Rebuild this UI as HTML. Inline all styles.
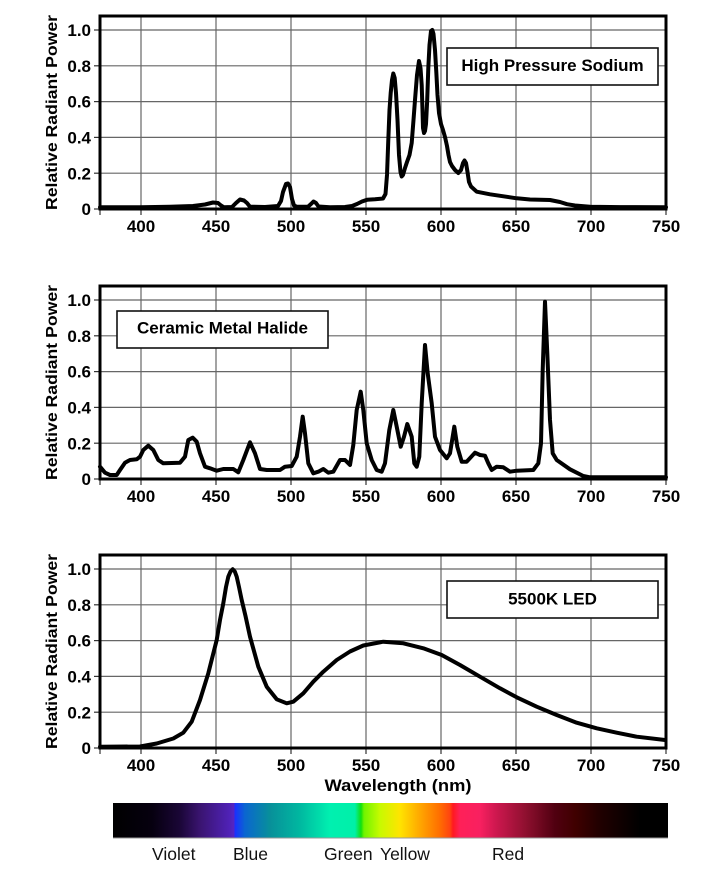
<!DOCTYPE html>
<html><head><meta charset="utf-8"><style>
html,body{margin:0;padding:0;background:#fff;}
svg{display:block;}
text{font-family:"Liberation Sans",Arial,sans-serif;}
</style></head><body>
<svg width="705" height="876" viewBox="0 0 705 876" xmlns="http://www.w3.org/2000/svg">
<defs>
<linearGradient id="spec" gradientUnits="userSpaceOnUse" x1="113" y1="0" x2="668" y2="0">
<stop offset="0" stop-color="#000000"/>
<stop offset="0.07" stop-color="#06000f"/>
<stop offset="0.12" stop-color="#1a0636"/>
<stop offset="0.1568" stop-color="#3a1470"/>
<stop offset="0.211" stop-color="#5022b8"/>
<stop offset="0.218" stop-color="#5525c4"/>
<stop offset="0.2198" stop-color="#1a30ff"/>
<stop offset="0.2378" stop-color="#0a66d0"/>
<stop offset="0.2829" stop-color="#08909a"/>
<stop offset="0.3369" stop-color="#00b8a0"/>
<stop offset="0.391" stop-color="#00f0b0"/>
<stop offset="0.436" stop-color="#00f0a8"/>
<stop offset="0.4468" stop-color="#10e010"/>
<stop offset="0.4523" stop-color="#70f400"/>
<stop offset="0.4811" stop-color="#c8fa00"/>
<stop offset="0.5171" stop-color="#ffe400"/>
<stop offset="0.5477" stop-color="#ffb000"/>
<stop offset="0.5874" stop-color="#ff7000"/>
<stop offset="0.6072" stop-color="#ff4410"/>
<stop offset="0.6126" stop-color="#ff1a20"/>
<stop offset="0.6252" stop-color="#ff2058"/>
<stop offset="0.6613" stop-color="#f82060"/>
<stop offset="0.6883" stop-color="#d01850"/>
<stop offset="0.7423" stop-color="#901030"/>
<stop offset="0.7964" stop-color="#500010"/>
<stop offset="0.8324" stop-color="#400000"/>
<stop offset="0.8775" stop-color="#200000"/>
<stop offset="0.9135" stop-color="#100000"/>
<stop offset="0.95" stop-color="#000000"/>
<stop offset="1" stop-color="#000000"/>
</linearGradient>
</defs>
<rect x="0" y="0" width="705" height="876" fill="#fff"/>

<g id="c1">
<g stroke="#666" stroke-width="1.2">
<line x1="141" y1="16" x2="141" y2="209"/><line x1="216" y1="16" x2="216" y2="209"/><line x1="291" y1="16" x2="291" y2="209"/><line x1="366" y1="16" x2="366" y2="209"/><line x1="441" y1="16" x2="441" y2="209"/><line x1="516" y1="16" x2="516" y2="209"/><line x1="591" y1="16" x2="591" y2="209"/>
<line x1="100" y1="30" x2="666" y2="30"/><line x1="100" y1="65.8" x2="666" y2="65.8"/><line x1="100" y1="101.6" x2="666" y2="101.6"/><line x1="100" y1="137.4" x2="666" y2="137.4"/><line x1="100" y1="173.2" x2="666" y2="173.2"/>
</g>
<g stroke="#333" stroke-width="1.2">
<line x1="100" y1="209" x2="100" y2="215"/><line x1="141" y1="209" x2="141" y2="215"/><line x1="216" y1="209" x2="216" y2="215"/><line x1="291" y1="209" x2="291" y2="215"/><line x1="366" y1="209" x2="366" y2="215"/><line x1="441" y1="209" x2="441" y2="215"/><line x1="516" y1="209" x2="516" y2="215"/><line x1="591" y1="209" x2="591" y2="215"/><line x1="666" y1="209" x2="666" y2="215"/>
<line x1="94" y1="30" x2="100" y2="30"/><line x1="94" y1="65.8" x2="100" y2="65.8"/><line x1="94" y1="101.6" x2="100" y2="101.6"/><line x1="94" y1="137.4" x2="100" y2="137.4"/><line x1="94" y1="173.2" x2="100" y2="173.2"/><line x1="94" y1="209" x2="100" y2="209"/>
</g>
<rect x="100" y="16" width="566" height="193" fill="none" stroke="#000" stroke-width="3"/>
<g font-size="17" font-weight="bold" fill="#000" text-anchor="end">
<text x="91" y="36.1">1.0</text><text x="91" y="71.9">0.8</text><text x="91" y="107.7">0.6</text><text x="91" y="143.5">0.4</text><text x="91" y="179.3">0.2</text><text x="91" y="215.1">0</text>
</g>
<g font-size="17" font-weight="bold" fill="#000" text-anchor="middle">
<text x="141" y="232">400</text><text x="216" y="232">450</text><text x="291" y="232">500</text><text x="366" y="232">550</text><text x="441" y="232">600</text><text x="516" y="232">650</text><text x="591" y="232">700</text><text x="666" y="232">750</text>
</g>
<text transform="translate(57,112.5) rotate(-90)" font-size="16" font-weight="bold" text-anchor="middle" textLength="195" lengthAdjust="spacingAndGlyphs">Relative Radiant Power</text>
</g>
<use href="#c1" transform="translate(0,270)"/>
<use href="#c1" transform="translate(0,539)"/>

<rect x="447" y="48" width="211" height="37" fill="#fff" stroke="#111" stroke-width="1.6"/>
<text x="552.5" y="71" font-size="17" font-weight="bold" text-anchor="middle">High Pressure Sodium</text>
<rect x="117" y="311" width="211" height="37" fill="#fff" stroke="#111" stroke-width="1.6"/>
<text x="222.5" y="333.5" font-size="17" font-weight="bold" text-anchor="middle">Ceramic Metal Halide</text>
<rect x="447" y="581" width="211" height="37" fill="#fff" stroke="#111" stroke-width="1.6"/>
<text x="552.5" y="604.5" font-size="17" font-weight="bold" text-anchor="middle">5500K LED</text>

<g fill="none" stroke="#000" stroke-width="4" stroke-linejoin="round" stroke-linecap="round">
<polyline points="100,207.3 140,207.3 170,206.8 193,206 205,204.5 213,202.5 218,203 221,205.5 224,207.3 232,207 236,203 240,199.5 244,200.5 247,203 250,206.7 265,207 278,206 281,201 283,192 286,184 288,183.5 290,187 292,199 294,205.5 297,206.8 308,206.7 311,204 313.5,201.5 316,203 318.5,206.5 330,207.3 345,207 352,206 357,204 362,201.5 367,199.8 375,199.3 383,198.5 385.5,194 387,175 388.3,140 389.5,110 390.7,93 392,80 393.3,73.5 394.7,78 396,93 397.5,120 399,155 400.5,172 401.7,176.5 403,175 405,168 407,162 409.5,155 411.7,143 413.5,120 415,100 417,75 419,61 420.5,68 421.7,85 422.5,110 423,128 424,133 425,131 426,124 427.2,100 428.3,68 429.5,45 431,31 432.3,30 433.5,34 435,50 436.3,72 437.5,95 439,113 441,124 443,130 445,137 447,146 448.5,155 450,162 452,166 455,170 458.3,173 461,170 463,163 464.5,160.5 466,163 467.5,172 469,182 471,186.5 476.7,191.7 490,194.3 516.7,198.3 530,199.5 550,200 560,202 567,204.2 575,205.5 590,206.7 620,207.1 666,207.3"/>
<polyline points="100,466.7 105,472.7 110,475 116.7,475 120,470 125,462.7 130,460 136.7,459.3 140,456.7 143.3,450 148.3,445.7 153.3,450 158.3,460 163.3,463.3 180,462.7 185,456.7 188.3,440 192.7,437.7 196.7,441.7 200,453.3 205,466.7 210,468.3 216.7,470.7 223.3,469 233.3,469 238.3,472.3 243.3,460 250,442.3 255,453.3 260,469 266.7,470 280,470 285,466.7 291.7,466 296.7,456.7 300,436.7 302.7,416.7 305,433.3 308.3,463.3 313.3,473.3 318.3,471.7 323.3,469 328.3,472.7 333.3,471.7 340,460 345,460 350,465 353.3,445 356.7,410 360.7,391.7 363.3,410 366.7,443.3 371.7,460 376.7,470 381.7,471.7 385,463.3 389.3,430 393.3,410 396.7,426.7 400.7,446.7 404,436.7 407.3,424 411.7,436.7 414.3,463.3 416.7,466.7 419.3,456.7 421.7,403.3 425,345 427.7,373.3 431.7,403.3 435,436.7 440,450 446.7,458.3 450,453.3 454.3,426.7 457.3,446.7 461.7,461.7 466.7,461.7 475,452.7 480,455 485,455.7 488.3,463.3 491.7,470 496.7,466.7 503.3,467.3 510,471.7 516.7,470.7 533.3,470 538.3,463.3 541,443.3 542.7,370 545,301.7 547.3,353.3 550,420 552.7,453.3 556.7,460 570,469.3 583.3,476 590,477.3 666,477.3"/>
<polyline points="100,746.7 140,746.5 156.7,743.5 173.3,738.5 183.3,732.7 191.7,721.7 200,700 208.3,673.3 216.7,640 220,620 223.3,603.3 226,587 228.3,576.7 230.5,571.5 232.7,569.3 234.8,571.5 236.7,576.7 239,587 241.7,600 245.5,616 250,636.7 258.3,666.7 266.7,686.7 276.7,699.3 286.7,703.3 293.3,701.7 303.3,693.3 313.3,681.7 323.3,671.7 336.7,660 350,651.5 363.3,645.5 383.3,641.7 403.3,643.3 423.3,648.3 441.7,655 460,665 480,676.7 500,688.3 516.7,697.3 536.7,706.7 556.7,715 576.7,722.7 596.7,728.3 616.7,732.7 636.7,736.7 665,740"/>
</g>

<text x="398" y="791" font-size="17" font-weight="bold" text-anchor="middle" textLength="147" lengthAdjust="spacingAndGlyphs">Wavelength (nm)</text>

<rect x="113" y="803" width="555" height="35" fill="url(#spec)"/>
<line x1="113" y1="838" x2="668" y2="838" stroke="#999" stroke-width="1"/>
<g font-size="17.5" fill="#111">
<text x="152" y="860">Violet</text>
<text x="233" y="860">Blue</text>
<text x="324" y="860">Green</text>
<text x="380" y="860">Yellow</text>
<text x="492" y="860">Red</text>
</g>
</svg>
</body></html>
